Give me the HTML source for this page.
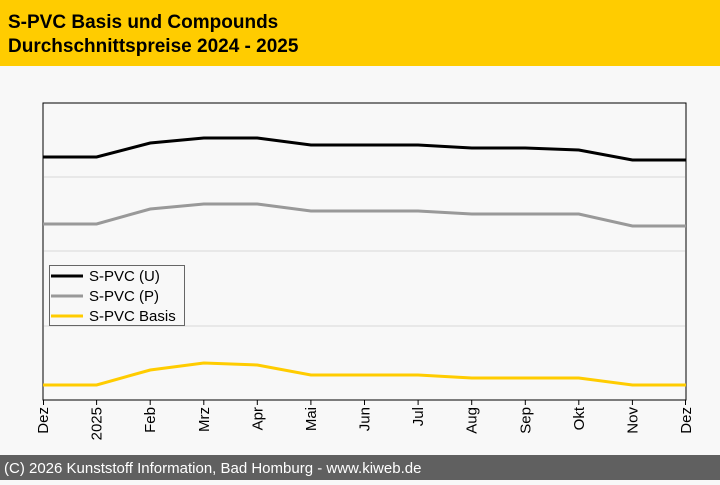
<!DOCTYPE html><html><head><style>body{margin:0;width:720px;height:480px;overflow:hidden;background:#f8f8f8;font-family:"Liberation Sans",Arial,sans-serif}</style></head><body>
<svg width="720" height="480" xmlns="http://www.w3.org/2000/svg" font-family="Liberation Sans, Arial, sans-serif">
<rect width="720" height="480" fill="#f8f8f8"/>
<rect width="720" height="66" fill="#ffcc00"/>
<text x="8" y="28" font-size="19" font-weight="bold" fill="#000">S-PVC Basis und Compounds</text>
<text x="8" y="52" font-size="19" font-weight="bold" fill="#000">Durchschnittspreise 2024 - 2025</text>
<rect x="43" y="103" width="643" height="297" fill="#f8f8f8" stroke="#000" stroke-width="1"/>
<g stroke="#d8d8d8"><line x1="44" y1="177" x2="685" y2="177"/><line x1="44" y1="251" x2="685" y2="251"/><line x1="44" y1="326" x2="685" y2="326"/></g>
<polyline fill="none" stroke="#000" stroke-width="3" points="43,157 96.6,157 150.2,143 203.8,138 257.3,138 310.9,145 364.5,145 418.1,145 471.7,148 525.3,148 578.8,150 632.4,160 686,160"/>
<polyline fill="none" stroke="#999" stroke-width="3" points="43,224 96.6,224 150.2,209 203.8,204 257.3,204 310.9,211 364.5,211 418.1,211 471.7,214 525.3,214 578.8,214 632.4,226 686,226"/>
<polyline fill="none" stroke="#ffcc00" stroke-width="3" points="43,385 96.6,385 150.2,370 203.8,363 257.3,365 310.9,375 364.5,375 418.1,375 471.7,378 525.3,378 578.8,378 632.4,385 686,385"/>
<line x1="43" y1="400" x2="686" y2="400" stroke="#000"/>
<g stroke="#000">
<line x1="43.5" y1="400" x2="43.5" y2="405"/><line x1="96.6" y1="400" x2="96.6" y2="405"/><line x1="150.2" y1="400" x2="150.2" y2="405"/><line x1="203.8" y1="400" x2="203.8" y2="405"/><line x1="257.3" y1="400" x2="257.3" y2="405"/><line x1="310.9" y1="400" x2="310.9" y2="405"/><line x1="364.5" y1="400" x2="364.5" y2="405"/><line x1="418.1" y1="400" x2="418.1" y2="405"/><line x1="471.7" y1="400" x2="471.7" y2="405"/><line x1="525.3" y1="400" x2="525.3" y2="405"/><line x1="578.8" y1="400" x2="578.8" y2="405"/><line x1="632.4" y1="400" x2="632.4" y2="405"/><line x1="685.5" y1="400" x2="685.5" y2="405"/>
</g>
<g font-size="15" fill="#000" text-anchor="end">
<text transform="translate(48,407) rotate(-90)">Dez</text>
<text transform="translate(101.6,407) rotate(-90)">2025</text>
<text transform="translate(155.2,407) rotate(-90)">Feb</text>
<text transform="translate(208.8,407) rotate(-90)">Mrz</text>
<text transform="translate(262.3,407) rotate(-90)">Apr</text>
<text transform="translate(315.9,407) rotate(-90)">Mai</text>
<text transform="translate(369.5,407) rotate(-90)">Jun</text>
<text transform="translate(423.1,407) rotate(-90)">Jul</text>
<text transform="translate(476.7,407) rotate(-90)">Aug</text>
<text transform="translate(530.3,407) rotate(-90)">Sep</text>
<text transform="translate(583.8,407) rotate(-90)">Okt</text>
<text transform="translate(637.4,407) rotate(-90)">Nov</text>
<text transform="translate(691,407) rotate(-90)">Dez</text>
</g>
<rect x="49.5" y="265.5" width="135" height="60" fill="#f8f8f8" stroke="#666"/>
<line x1="51" y1="276" x2="83" y2="276" stroke="#000" stroke-width="3"/>
<line x1="51" y1="296" x2="83" y2="296" stroke="#999" stroke-width="3"/>
<line x1="51" y1="316" x2="83" y2="316" stroke="#ffcc00" stroke-width="3"/>
<g font-size="15" fill="#000"><text x="89" y="281">S-PVC (U)</text><text x="89" y="301">S-PVC (P)</text><text x="89" y="321">S-PVC Basis</text></g>
<rect x="0" y="455" width="720" height="25" fill="#606060"/>
<text x="4" y="473" font-size="15" fill="#fff">(C) 2026 Kunststoff Information, Bad Homburg - www.kiweb.de</text>
</svg></body></html>
